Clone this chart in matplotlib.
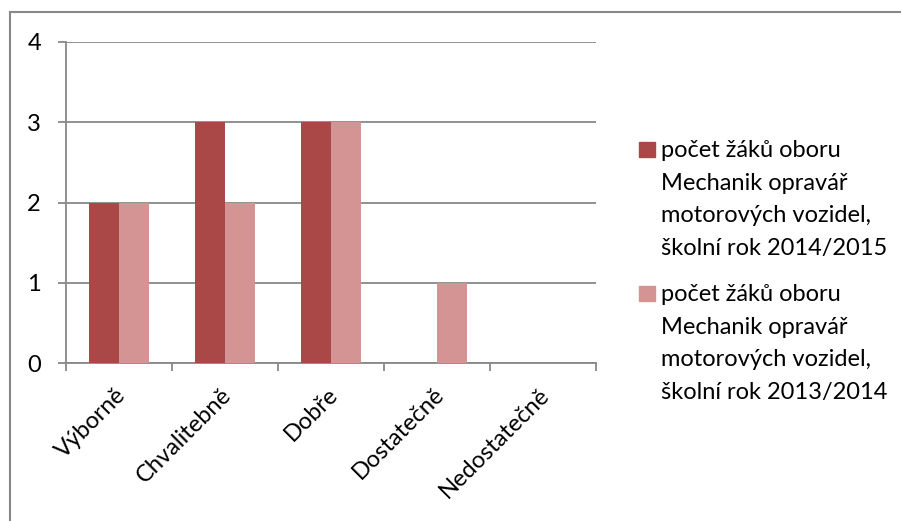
import matplotlib
matplotlib.use("Agg")
import matplotlib.pyplot as plt
from matplotlib.patches import Rectangle
from matplotlib.lines import Line2D
import numpy as np

# Grades and pupil counts per school year
categories = ["Výborně", "Chvalitebně", "Dobře", "Dostatečně", "Nedostatečně"]
values_2014_2015 = [2, 3, 3, 0, 0]
values_2013_2014 = [2, 2, 3, 1, 0]
series_labels = [
    "počet žáků oboru\nMechanik opravář\nmotorových vozidel,\nškolní rok 2014/2015",
    "počet žáků oboru\nMechanik opravář\nmotorových vozidel,\nškolní rok 2013/2014",
]
y_ticks = [0, 1, 2, 3, 4]

DARK = "#A94847"
LIGHT = "#D49494"
GRID = "#888888"
FONT = "Lato"
FS = 17

W, H = 901, 521
fig = plt.figure(figsize=(W / 100, H / 100), dpi=100)


def fx(px):
    return px / W


def fy(py):
    return 1 - py / H


# plot area in pixels: left 66, right 596, top 42, bottom 363
ax = fig.add_axes([fx(66), fy(363), fx(596) - fx(66), fy(42) - fy(363)])

x = np.arange(len(categories))
bw = 0.285
ax.bar(x - bw / 2, values_2014_2015, width=bw, color=DARK, zorder=3)
ax.bar(x + bw / 2, values_2013_2014, width=bw, color=LIGHT, zorder=3)

ax.set_xlim(-0.5, len(categories) - 0.5)
ax.set_ylim(0, 4)

# horizontal gridlines
ax.set_yticks(y_ticks)
ax.yaxis.grid(True, color=GRID, linewidth=1.3, zorder=1)
ax.set_yticklabels([str(v) for v in y_ticks], fontsize=FS, family=FONT, color="black")
ax.tick_params(axis="y", length=6, width=1.3, color=GRID, pad=12)

# category boundaries as tick marks, labels centred on categories
ax.set_xticks(np.arange(-0.5, len(categories), 1.0), minor=True)
ax.set_xticks(x)
ax.set_xticklabels(categories, fontsize=FS, family=FONT, rotation=45,
                   ha="right", va="top", rotation_mode="anchor")
ax.tick_params(axis="x", which="major", length=0, pad=15)
ax.tick_params(axis="x", which="minor", length=6, width=1.3, color=GRID)
for lbl in ax.get_xticklabels():
    lbl.set_transform(lbl.get_transform() + matplotlib.transforms.ScaledTranslation(
        -4 / 100, 0, fig.dpi_scale_trans))

for side in ("top", "right"):
    ax.spines[side].set_visible(False)
for side in ("left", "bottom"):
    ax.spines[side].set_color(GRID)
    ax.spines[side].set_linewidth(1.3)
ax.set_facecolor("none")

# chart border (left and top edges)
fig.add_artist(Line2D([fx(10), fx(10)], [fy(12), fy(H + 5)], color=GRID, linewidth=1.5))
fig.add_artist(Line2D([fx(10), fx(W + 5)], [fy(12), fy(12)], color=GRID, linewidth=1.5))

# legend
colors = [DARK, LIGHT]
first_baselines = [157, 301]
line_step = 32.7
for label, color, base in zip(series_labels, colors, first_baselines):
    fig.add_artist(Rectangle((fx(639), fy(base - 0.5)), fx(16), fy(0) - fy(15),
                             transform=fig.transFigure, color=color))
    for i, line in enumerate(label.split("\n")):
        fig.text(fx(661), fy(base + i * line_step), line, fontsize=FS, family=FONT,
                 ha="left", va="baseline", color="black")

fig.savefig("out.png", dpi=100, facecolor="white")
